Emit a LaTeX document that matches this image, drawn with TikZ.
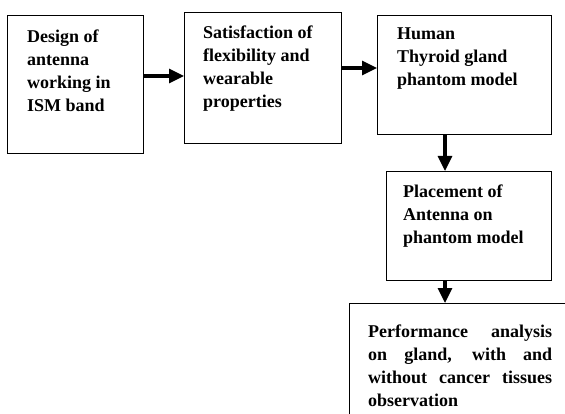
\documentclass[tikz,border=0pt]{standalone}
\usepackage{fontspec}
\setmainfont{Liberation Serif}
\usetikzlibrary{positioning,arrows.meta}

\tikzset{
    stage/.style={draw, line width=1.4pt, anchor=north west, inner sep=0pt},
    stagetext/.style={align=left, inner sep=0pt, font=\fontsize{18}{23}\selectfont\bfseries},
    flow/.style={-{Triangle[length=15pt,width=14pt]}, line width=3.2pt}
}

\begin{document}
\begin{tikzpicture}[x=1pt,y=-1pt]
        \clip (0,0) rectangle (565,414);

        % boxes
        \node[stage, minimum width=136pt, minimum height=138pt] (design) at (7,15) {};
        \node[stage, minimum width=157pt, minimum height=131pt] (satis) at (184,12) {};
        \node[stage, minimum width=174pt, minimum height=119pt] (thyroid) at (377,15) {};
        \node[stage, minimum width=165pt, minimum height=109pt] (place) at (386,171) {};
        \node[stage, minimum width=230pt, minimum height=130pt] (perf) at (349,303) {};

        % texts
        \node[stagetext, below right=14.6pt and 20pt of design.north west] (designtxt)
            {Design of\\antenna\\working in\\ISM band};
        \node[stagetext, below right=13.6pt and 19pt of satis.north west] (satistxt)
            {Satisfaction of\\flexibility and\\wearable\\properties};
        \node[stagetext, below right=12.6pt and 20pt of thyroid.north west] (thyroidtxt)
            {Human\\Thyroid gland\\phantom model};
        \node[stagetext, below right=13.6pt and 17pt of place.north west] (placetxt)
            {Placement of\\Antenna on\\phantom model};
        \node[stagetext, text width=184pt, align=justify, below right=21.6pt and 19pt of perf.north west] (perftxt)
            {Performance analysis\linebreak on gland, with and\linebreak without cancer tissues\linebreak observation};

        % arrows
        \coordinate (rowa) at (0,76);
        \coordinate (rowb) at (0,68);
        \coordinate (colc) at (445,0);
        \draw[flow] (design.east |- rowa) -- (satis.west |- rowa);
        \draw[flow] (satis.east |- rowb) -- (thyroid.west |- rowb);
        \draw[flow] (thyroid.south -| colc) -- (place.north -| colc);
        \draw[flow] (place.south -| colc) -- (perf.north -| colc);

\end{tikzpicture}
\end{document}
